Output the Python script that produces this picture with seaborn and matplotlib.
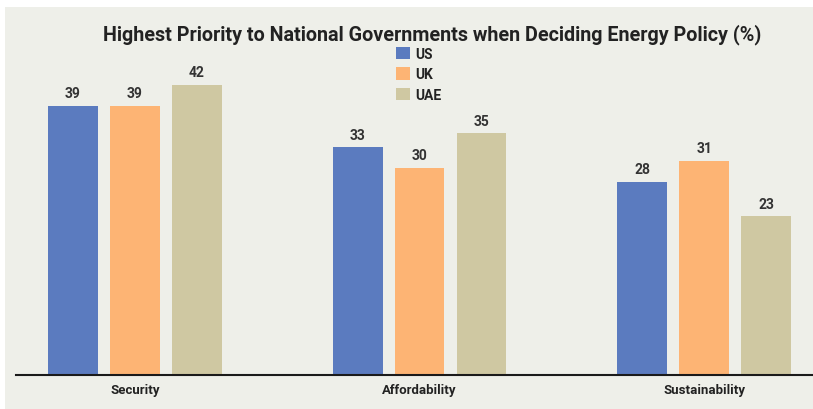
import matplotlib
matplotlib.use("Agg")
import matplotlib.pyplot as plt
import seaborn as sns
import pandas as pd
from matplotlib.patches import Rectangle

categories = ["Security", "Affordability", "Sustainability"]
countries = ["US", "UK", "UAE"]
us_values = [39, 33, 28]
uk_values = [39, 30, 31]
uae_values = [42, 35, 23]
colors = ["#5b7bbf", "#fdb474", "#cfc8a2"]

rows = []
for country, vals in zip(countries, [us_values, uk_values, uae_values]):
    for cat, v in zip(categories, vals):
        rows.append({"Category": cat, "Country": country, "Value": v})
df = pd.DataFrame(rows)

sns.set_style("white")
plt.rcParams["font.family"] = ["Roboto", "DejaVu Sans"]

bg = "#eeefe9"
fig = plt.figure(figsize=(8.13, 4.10), dpi=100)
fig.patch.set_facecolor("white")
fig.patches.append(Rectangle((5 / 813, 0), 808 / 813, 402 / 410, transform=fig.transFigure,
                             facecolor=bg, edgecolor="none", zorder=-10))

ax = fig.add_axes([16 / 813, 34 / 410, 796 / 813, 346 / 410])
ax.set_facecolor("none")

sns.barplot(data=df, x="Category", y="Value", hue="Country", order=categories,
            hue_order=countries, palette=colors, width=0.6526, gap=0.195,
            saturation=1, ax=ax, legend=True, linewidth=0, edgecolor="none")

for cont in ax.containers:
    ax.bar_label(cont, padding=4, fontsize=10, fontweight="bold", color="#333333")

ax.set_xlim(-0.418, 2.379)
ax.set_ylim(0, 50.1)
ax.set_xlabel("")
ax.set_ylabel("")
ax.set_yticks([])
ax.tick_params(axis="x", length=0, pad=6)
for lbl in ax.get_xticklabels():
    lbl.set_fontweight("bold")
    lbl.set_fontsize(9.5)
    lbl.set_color("#222222")
for s in ["top", "right", "left"]:
    ax.spines[s].set_visible(False)
ax.spines["bottom"].set_color("#1a1a1a")
ax.spines["bottom"].set_linewidth(1.5)

leg = ax.legend(loc="upper left", bbox_to_anchor=(380 / 796, (376 - 48) / 346),
                frameon=False, handlelength=1.0, handleheight=1.0, handletextpad=0.4,
                labelspacing=0.45, borderpad=0, borderaxespad=0,
                prop={"weight": "bold", "size": 10})
for t in leg.get_texts():
    t.set_color("#222222")
for h in leg.legend_handles:
    h.set_edgecolor("none")

fig.text(432 / 813, 1 - 35 / 410, "Highest Priority to National Governments when Deciding Energy Policy (%)",
         ha="center", va="center", fontsize=14.2, fontweight="bold", color="#222222")

fig.savefig("out.png", dpi=100, facecolor=fig.get_facecolor())
